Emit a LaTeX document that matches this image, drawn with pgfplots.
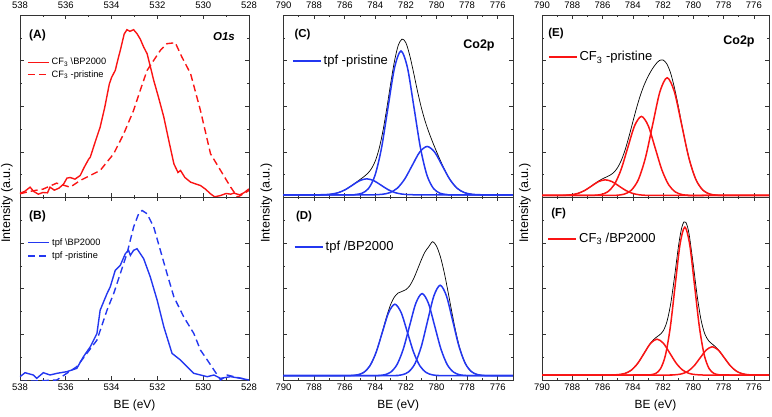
\documentclass[border=0pt]{standalone}
\usepackage{fontspec}
\setmainfont{Liberation Sans}
\usepackage{pgfplots}
\pgfplotsset{compat=1.18}
\definecolor{myred}{RGB}{250,20,20}
\definecolor{myblue}{RGB}{35,55,240}
\pgfplotsset{
  panel/.style={
    scale only axis, height=182.5pt,
    tick align=inside,
    major tick length=4pt, minor tick length=2pt,
    axis line style={black!80, line width=0.8pt},
    tick style={black!80, line width=0.6pt},
    yticklabels={},
    minor x tick num=1,
    x dir=reverse, ymin=0,
    tick label style={font=\fontsize{9.5}{11}\selectfont},
    /pgf/number format/assume math mode=true,
    /pgf/number format/set thousands separator={},
    legend cell align=left,
    legend image code/.code={\draw[##1] (0pt,0pt) -- (21pt,0pt);},
    legend style={draw=none, fill=none, inner sep=0pt, row sep=0pt,
      font=\fontsize{9.25}{11}\selectfont},
  },
  toprow/.style={ymax=547, xticklabel pos=upper,
    xticklabel style={yshift=3pt},
    ytick={136.75,273.5,410.25}, minor ytick={68.375,205.125,341.875,478.625}},
  botrow/.style={ymax=549,
    ytick={137.25,274.5,411.75}, minor ytick={68.625,205.875,343.125,480.375}},
  ois/.style={xmin=528, xmax=538, xtick={528,530,...,538}},
  co/.style={xmin=775, xmax=790, xtick={776,778,...,790},
    legend image code/.code={\draw[##1] (0pt,0pt) -- (28pt,0pt);},
    legend style={font=\fontsize{13}{15}\selectfont}},
  ln/.style={line width=1.4pt},
  env/.style={black, line width=0.7pt, smooth},
  comp/.style={line width=1.5pt, smooth},
}
\begin{document}
\begin{tikzpicture}[x=1pt,y=1pt]
\useasboundingbox (0,0) rectangle (772,416);
% ---------------- (A)
\begin{axis}[panel, toprow, ois, at={(20pt,218.5pt)}, anchor=south west, width=229pt,
  legend style={at={(axis description cs:0.031,0.707)}, anchor=west}]
\addplot[myred, ln] table {
538.0 13
537.8 18
537.56 31
537.4 18
537.2 10
537.0 15
536.8 14
536.69 31
536.5 22
536.3 28
536.1 40
535.95 58
535.81 60
535.6 55
535.37 66
535.2 90
535.0 115
534.93 121
534.7 170
534.5 211
534.3 270
534.1 340
534.0 360
533.84 381
533.7 420
533.62 441
533.45 490
533.33 503
533.2 498
533.04 503
532.89 491
532.75 475
532.60 451
532.45 431
532.3 390
532.16 351
531.95 300
531.72 241
531.5 170
531.28 101
531.1 75
530.99 81
530.8 60
530.55 46
530.3 40
530.12 36
529.9 25
529.68 11
529.5 2
529.24 6
529.0 12
528.8 10
528.66 13
528.4 8
528.2 15
528.0 26
};
\addlegendentry{CF\textsubscript{3} \textbackslash BP2000}
\addplot[myred, ln, dash pattern=on 7pt off 4pt] table {
538.0 11
537.6 18
537.0 25
536.4 43
535.81 31
535.37 51
534.50 81
533.91 131
533.47 191
533.04 261
532.75 321
532.45 381
532.16 411
531.87 441
531.58 461
531.22 464
530.93 421
530.55 371
530.12 261
529.68 131
529.24 81
528.80 31
528.5 1
528.0 21
};
\addlegendentry{CF\textsubscript{3} -pristine}
\end{axis}
% ---------------- (B)
\begin{axis}[panel, botrow, ois, at={(20pt,36pt)}, anchor=south west, width=229pt]
\addplot[myblue, ln] table {
538.0 10
537.78 22
537.42 15
537.27 5
536.98 22
536.69 15
536.39 20
535.96 25
535.52 35
535.23 70
534.93 100
534.64 140
534.50 210
534.20 260
534.06 280
533.84 330
533.62 345
533.40 380
533.26 390
533.18 375
533.04 390
532.89 395
532.60 365
532.31 310
532.01 240
531.72 160
531.36 80
530.99 60
530.70 40
530.41 20
530.12 15
529.82 10
529.53 15
529.24 5
528.80 10
528.36 5
528.0 0
};
\addplot[myblue, ln, dash pattern=on 7pt off 4pt] table {
538.0 -5
536.39 0
535.96 20
535.52 40
535.08 80
534.64 120
534.20 210
533.91 260
533.62 320
533.33 380
533.04 460
532.82 500
532.67 510
532.45 500
532.16 460
531.87 390
531.58 320
531.28 250
530.85 190
530.41 140
530.12 90
529.82 60
529.53 30
529.24 0
528.95 15
528.66 10
528.0 0
};
\end{axis}
% ---------------- (C)
\begin{axis}[panel, toprow, co, at={(283.5pt,218.5pt)}, anchor=south west, width=229.5pt,
  legend style={at={(axis description cs:0.037,0.748)}, anchor=west}]
\addplot[env, forget plot] coordinates {(775,8) (776.5,8.0) (777.0,8.2) (777.5,8.9) (778.0,12.2) (778.25,16.0) (778.5,22.2) (778.75,31.9) (779.0,45.8) (779.25,63.8) (779.5,86.1) (779.75,111.2) (780.0,137.9) (780.25,165.9) (780.5,195.8) (780.75,229.8) (781.0,271.0) (781.25,320.3) (781.5,374.9) (781.75,426.1) (782.0,463.8) (782.25,474.8) (782.5,456.1) (782.75,407.7) (783.0,340.2) (783.25,266.7) (783.5,199.4) (783.75,146.4) (784.0,109.6) (784.25,86.4) (784.5,72.2) (784.75,62.2) (785.0,53.9) (785.25,45.5) (785.5,37.2) (785.75,29.3) (786.0,22.5) (786.25,17.2) (786.5,13.5) (786.75,11.0) (787.0,9.5) (787.5,8.3) (788.0,8.05) (790,8)};
\addplot[myblue, comp] coordinates {(775,8) (778.92,8.1) (779.345,9.0) (779.77,12.8) (780.195,26.9) (780.62,66.3) (781.045,147.9) (781.47,269.4) (781.895,388.4) (782.32,439) (782.745,388.4) (783.17,269.4) (783.595,147.9) (784.02,66.3) (784.445,26.9) (784.87,12.8) (785.295,9.0) (785.72,8.1) (790,8)};
\addlegendentry{tpf -pristine}
\addplot[myblue, comp, forget plot] coordinates {(775,8) (776.69,8) (777.18,8.3) (777.67,9.6) (778.16,14.4) (778.65,27.6) (779.14,55.1) (779.63,95.9) (780.12,136) (780.61,153) (781.10,136) (781.59,95.9) (782.08,55.1) (782.57,27.6) (783.06,14.4) (783.55,9.6) (784.04,8.3) (784.53,8) (790,8)};
\addplot[myblue, comp, forget plot] coordinates {(775,8) (780.84,8) (781.30,8.1) (781.77,8.5) (782.235,10.1) (782.70,14.5) (783.165,23.6) (783.63,37.1) (784.095,50.4) (784.56,56) (785.025,50.4) (785.49,37.1) (785.955,23.6) (786.42,14.5) (786.885,10.1) (787.35,8.5) (787.82,8.1) (788.28,8) (790,8)};
\end{axis}
% ---------------- (D)
\begin{axis}[panel, botrow, co, at={(283.5pt,36pt)}, anchor=south west, width=229.5pt]
\addplot[env] coordinates {(775,13) (776.5,13.1) (777.0,13.9) (777.25,15.5) (777.5,19.2) (777.75,26.7) (778.0,40.6) (778.25,64.0) (778.5,99.3) (778.75,147.3) (779.0,205.1) (779.25,266.5) (779.5,324.6) (779.75,371.5) (780.0,402.7) (780.25,416.1) (780.5,401.3) (780.75,385.5) (781.0,360.5) (781.25,331.7) (781.5,304.2) (781.75,283.5) (782.0,271.8) (782.25,266.5) (782.5,261.8) (782.75,249.8) (783.0,226.7) (783.25,192.2) (783.5,151.6) (783.75,111.3) (784.0,76.8) (784.25,50.7) (784.5,33.4) (784.75,23.0) (785.0,17.5) (785.25,14.8) (785.5,13.7) (785.75,13.2) (786.0,13.1) (790,13)};
\addplot[myblue, comp] coordinates {(775,13) (779.44,13.1) (779.85,13.5) (780.26,15.4) (780.67,22.4) (781.08,42.1) (781.49,82.8) (781.90,143.4) (782.31,202.7) (782.72,228) (783.13,202.7) (783.54,143.4) (783.95,82.8) (784.36,42.1) (784.77,22.4) (785.18,15.4) (785.59,13.5) (786.00,13.1) (790,13)};
\addplot[myblue, comp] coordinates {(775,13) (777.66,13.1) (778.07,13.5) (778.48,15.7) (778.89,23.8) (779.30,46.4) (779.71,93.2) (780.12,162.8) (780.53,231.0) (780.94,260) (781.35,231.0) (781.76,162.8) (782.17,93.2) (782.58,46.4) (782.99,23.8) (783.40,15.7) (783.81,13.5) (784.22,13.1) (790,13)};
\addplot[myblue, comp] coordinates {(775,13) (776.48,13.1) (776.89,13.6) (777.30,16.0) (777.71,24.9) (778.12,49.8) (778.53,101.3) (778.94,178.0) (779.35,253.0) (779.76,285) (780.17,253.0) (780.58,178.0) (780.99,101.3) (781.40,49.8) (781.81,24.9) (782.22,16.0) (782.63,13.6) (783.04,13.1) (790,13)};
\end{axis}
% ---------------- (E)
\begin{axis}[panel, toprow, co, at={(542pt,218.5pt)}, anchor=south west, width=227pt,
  legend style={at={(axis description cs:0.026,0.77)}, anchor=west}]
\addplot[env, forget plot] coordinates {(775,6) (777.5,6.0) (778.0,6.1) (778.5,7.1) (778.75,8.6) (779.0,11.7) (779.25,17.7) (779.5,28.5) (779.75,46.2) (780.0,73.4) (780.25,111.2) (780.5,159.7) (780.75,216.0) (781.0,275.2) (781.25,329.3) (781.5,372.6) (781.75,400.4) (782.0,412.0) (782.25,410.3) (782.5,398.9) (782.75,382.4) (783.0,362.1) (783.25,337.2) (783.5,306.3) (783.75,268.6) (784.0,226.3) (784.25,183.1) (784.5,143.8) (784.75,112.3) (785.0,89.8) (785.25,75.5) (785.5,67.0) (785.75,61.4) (786.0,56.1) (786.25,49.7) (786.5,42.0) (786.75,33.9) (787.0,26.0) (787.25,19.3) (787.5,14.2) (787.75,10.7) (788.0,8.5) (788.5,6.6) (789.0,6.1) (790,6)};
\addplot[myred, comp] coordinates {(775,6) (777.93,6.1) (778.405,6.8) (778.88,9.9) (779.355,21.5) (779.83,53.8) (780.305,120.6) (780.78,220.1) (781.255,317.5) (781.73,359) (782.205,317.5) (782.68,220.1) (783.155,120.6) (783.63,53.8) (784.105,21.5) (784.58,9.9) (785.055,6.8) (785.53,6.1) (790,6)};
\addlegendentry{CF\textsubscript{3} -pristine}
\addplot[myred, comp, forget plot] coordinates {(775,6) (779.83,6.1) (780.28,6.5) (780.73,8.6) (781.18,16.4) (781.63,38.1) (782.08,83.0) (782.53,149.7) (782.98,215.2) (783.43,243) (783.88,215.2) (784.33,149.7) (784.78,83.0) (785.23,38.1) (785.68,16.4) (786.13,8.6) (786.58,6.5) (787.03,6.1) (790,6)};
\addplot[myred, comp, forget plot] coordinates {(775,6) (782.22,6.0) (782.67,6.1) (783.12,6.5) (783.57,8.1) (784.02,12.4) (784.47,21.3) (784.92,34.5) (785.37,47.5) (785.82,53) (786.27,47.5) (786.72,34.5) (787.17,21.3) (787.62,12.4) (788.07,8.1) (788.52,6.5) (788.97,6.1) (789.42,6.0) (790,6)};
\end{axis}
% ---------------- (F)
\begin{axis}[panel, botrow, co, at={(542pt,36pt)}, anchor=south west, width=227pt]
\addplot[env] coordinates {(775,15) (775.5,15.0) (776.0,15.2) (776.5,16.6) (776.75,18.7) (777.0,22.8) (777.25,29.7) (777.5,40.1) (777.75,53.9) (778.0,69.8) (778.25,85.6) (778.5,98.4) (778.75,108.1) (779.0,118.7) (779.25,139.6) (779.5,183.0) (779.75,254.5) (780.0,345.6) (780.25,430.2) (780.375,459.1) (780.5,474.6) (780.625,475.4) (780.75,461.0) (780.875,433.4) (781.0,396.1) (781.25,307.7) (781.5,228.1) (781.75,174.5) (782.0,147.1) (782.25,135.0) (782.5,126.7) (782.75,115.5) (783.0,99.5) (783.25,80.5) (783.5,61.8) (783.75,45.6) (784.0,33.4) (784.25,25.1) (784.5,20.1) (784.75,17.4) (785.0,16.0) (785.5,15.1) (786.0,15.0) (790,15)};
\addplot[myred, comp] coordinates {(775,15) (778.00,15.1) (778.32,16.0) (778.64,19.9) (778.96,34.5) (779.28,75.2) (779.60,159.5) (779.92,284.9) (780.24,407.7) (780.56,460) (780.88,407.7) (781.20,284.9) (781.52,159.5) (781.84,75.2) (782.16,34.5) (782.48,19.9) (782.80,16.0) (783.12,15.1) (790,15)};
\addplot[myred, comp] coordinates {(775,15) (779.0,15.0) (779.425,15.2) (779.85,16.2) (780.275,19.7) (780.70,29.6) (781.125,50.1) (781.55,80.5) (781.975,110.3) (782.40,123) (782.825,110.3) (783.25,80.5) (783.675,50.1) (784.10,29.6) (784.525,19.7) (784.95,16.2) (785.375,15.2) (785.8,15.0) (790,15)};
\addplot[myred, comp] coordinates {(775,15) (775.55,15.0) (775.95,15.2) (776.35,15.9) (776.75,18.7) (777.15,26.5) (777.55,42.6) (777.95,66.6) (778.35,90.0) (778.75,100) (779.15,90.0) (779.55,66.6) (779.95,42.6) (780.35,26.5) (780.75,18.7) (781.15,15.9) (781.55,15.2) (781.95,15.0) (790,15)};
\end{axis}
% ---------------- legend keys of the lower panels
\draw[myblue, line width=1.4pt] (28,173.3) -- (49,173.3);
\node[anchor=west, inner sep=0pt, font=\fontsize{9.25}{11}\selectfont] at (52,173.3) {tpf \textbackslash BP2000};
\draw[myblue, line width=1.4pt, dash pattern=on 7pt off 4pt] (28,160) -- (49,160);
\node[anchor=west, inner sep=0pt, font=\fontsize{9.25}{11}\selectfont] at (52,160) {tpf -pristine};
\draw[myblue, line width=1.5pt] (294.5,169) -- (322.5,169);
\node[anchor=west, inner sep=0pt, font=\fontsize{13}{15}\selectfont] at (325.5,169) {tpf /BP2000};
\draw[myred, line width=1.5pt] (548,177) -- (576,177);
\node[anchor=west, inner sep=0pt, font=\fontsize{13}{15}\selectfont] at (579,177) {CF\textsubscript{3} /BP2000};
% ---------------- labels
\node[font=\bfseries\fontsize{12}{14}\selectfont] at (37.5,381) {(A)};
\node[font=\bfseries\itshape\fontsize{11.5}{14}\selectfont] at (224,379) {O1s};
\node[font=\bfseries\fontsize{12}{14}\selectfont] at (37.5,199.3) {(B)};
\node[font=\bfseries\fontsize{11.5}{14}\selectfont] at (302.5,381) {(C)};
\node[font=\bfseries\fontsize{12.5}{14}\selectfont] at (479,371) {Co2p};
\node[font=\bfseries\fontsize{11.5}{14}\selectfont] at (304,199) {(D)};
\node[font=\bfseries\fontsize{11.5}{14}\selectfont] at (556,382.7) {(E)};
\node[font=\bfseries\fontsize{12.5}{14}\selectfont] at (739,374.3) {Co2p};
\node[font=\bfseries\fontsize{11.5}{14}\selectfont] at (558.7,202) {(F)};
\node[font=\fontsize{12.5}{14}\selectfont, rotate=90] at (7,213) {Intensity (a.u.)};
\node[font=\fontsize{12.5}{14}\selectfont, rotate=90] at (266.5,213) {Intensity (a.u.)};
\node[font=\fontsize{12.5}{14}\selectfont, rotate=90] at (525,213) {Intensity (a.u.)};
\node[font=\fontsize{11.9}{14}\selectfont] at (134.5,11) {BE (eV)};
\node[font=\fontsize{11.9}{14}\selectfont] at (398.25,11) {BE (eV)};
\node[font=\fontsize{11.9}{14}\selectfont] at (655.5,11) {BE (eV)};
\end{tikzpicture}
\end{document}
